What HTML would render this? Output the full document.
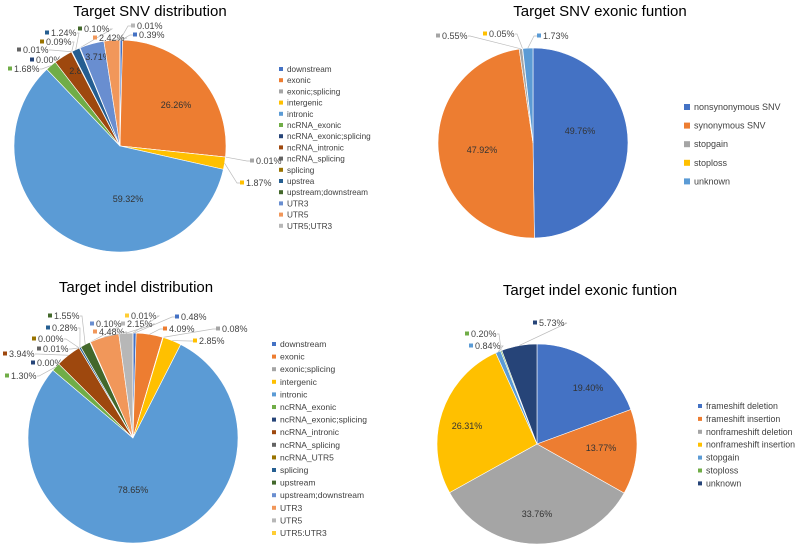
<!DOCTYPE html>
<html><head><meta charset="utf-8"><style>
body{margin:0;background:#fff;}
svg{display:block;font-family:"Liberation Sans",sans-serif;}
</style></head><body>
<svg id="chart" width="800" height="545" viewBox="0 0 800 545"></svg>
<script>
// ---- data ----
const snvCategories = ["downstream","exonic","exonic;splicing","intergenic","intronic","ncRNA_exonic","ncRNA_exonic;splicing","ncRNA_intronic","ncRNA_splicing","splicing","upstrea","upstream;downstream","UTR3","UTR5","UTR5;UTR3"];
const snvValues = [0.39,26.26,0.01,1.87,59.32,1.68,0.00,2.87,0.01,0.09,1.24,0.10,3.71,2.42,0.01];
const snvExCategories = ["nonsynonymous SNV","synonymous SNV","stopgain","stoploss","unknown"];
const snvExValues = [49.76,47.92,0.55,0.05,1.73];
const indelCategories = ["downstream","exonic","exonic;splicing","intergenic","intronic","ncRNA_exonic","ncRNA_exonic;splicing","ncRNA_intronic","ncRNA_splicing","ncRNA_UTR5","splicing","upstream","upstream;downstream","UTR3","UTR5","UTR5:UTR3"];
const indelValues = [0.48,4.09,0.08,2.85,78.65,1.30,0.00,3.94,0.01,0.00,0.28,1.55,0.10,4.48,2.15,0.01];
const indelExCategories = ["frameshift deletion","frameshift insertion","nonframeshift deletion","nonframeshift insertion","stopgain","stoploss","unknown"];
const indelExValues = [19.40,13.77,33.76,26.31,0.84,0.20,5.73];

// ---- styling / layout ----
const pal15 = ["#4472C4","#ED7D31","#A5A5A5","#FFC000","#5B9BD5","#70AD47","#264478","#9E480E","#636363","#997300","#255E91","#43682B","#698ED0","#F1975A","#B7B7B7","#FFCD33"];
const pal7 = ["#4472C4","#ED7D31","#A5A5A5","#FFC000","#5B9BD5","#70AD47","#264478"];
const NS="http://www.w3.org/2000/svg";
const svg=document.getElementById('chart');
function mk(tag,attrs,parent){const e=document.createElementNS(NS,tag);for(const k in attrs)e.setAttribute(k,attrs[k]);(parent||svg).appendChild(e);return e;}

const pies=[
 {key:"snv-dist",title:"Target SNV distribution",tx:150,ty:16,cx:120,cy:146,r:106,cats:snvCategories,vals:snvValues,pal:pal15,
  lx:279,ly0:69,ldy:11.2,fs:8.2,ms:4,
  labels:{0:[133,35],1:[176,105,1],2:[250,161],3:[240,183],4:[128,199,1],5:[8,69],6:[30,60],7:[82,71,1],8:[17,50],9:[40,42],10:[45,33],11:[78,29],12:[98,57,1],13:[93,38],14:[131,26]}},
 {key:"snv-exonic",title:"Target SNV exonic funtion",tx:600,ty:16,cx:533,cy:143,r:95,cats:snvExCategories,vals:snvExValues,pal:pal7,
  lx:684,ly0:107,ldy:18.6,fs:9,ms:6,
  labels:{0:[580,131,1],1:[482,150,1],2:[36,36],3:[83,34],4:[137,36]}, offx:400},
 {key:"indel-dist",title:"Target indel distribution",tx:136,ty:292,cx:133,cy:438,r:105,cats:indelCategories,vals:indelValues,pal:pal15,
  lx:272,ly0:344,ldy:12.6,fs:8.5,ms:4,
  labels:{0:[175,317],1:[163,329],2:[216,329],3:[193,341],4:[133,490,1],5:[5,376],6:[31,363],7:[3,354],8:[37,349],9:[32,339],10:[46,328],11:[48,316],12:[90,324],13:[93,332],14:[121,324],15:[125,316]}},
 {key:"indel-exonic",title:"Target indel exonic funtion",tx:590,ty:295,cx:537,cy:444,r:100,cats:indelExCategories,vals:indelExValues,pal:pal7,
  lx:698,ly0:406,ldy:12.9,fs:8.8,ms:4,
  labels:{0:[588,388,1],1:[601,448,1],2:[537,514,1],3:[467,426,1],4:[469,346],5:[465,334],6:[533,323]}}
];

pies.forEach(p=>{
  const g=mk('g',{});
  
  
  const t=mk('text',{x:p.tx,y:p.ty,'text-anchor':'middle','font-size':15,fill:'#000'},g);
  t.textContent=p.title;
  
  
  const total=p.vals.reduce((a,b)=>a+b,0);
  let a0=-Math.PI/2;
  const offx=p.offx||0;
  p.vals.forEach((v,i)=>{
    const a1=a0+v/total*2*Math.PI;
    const col=p.pal[i%p.pal.length];
    if(v>0){
      const x0=p.cx+p.r*Math.cos(a0),y0=p.cy+p.r*Math.sin(a0);
      const x1=p.cx+p.r*Math.cos(a1),y1=p.cy+p.r*Math.sin(a1);
      const large=(a1-a0)>Math.PI?1:0;
      const s=mk('path',{d:`M${p.cx},${p.cy}L${x0},${y0}A${p.r},${p.r} 0 ${large} 1 ${x1},${y1}Z`,fill:col,stroke:'#fff','stroke-width':0.6},g);
      
      
    }
    const am=(a0+a1)/2;
    const lb=p.labels[i];
    if(lb){
      const txt=v.toFixed(2)+'%';
      if(lb[2]){
        const l=mk('text',{x:lb[0],y:lb[1]+3,'text-anchor':'middle','font-size':9,fill:'#333'},g);
        l.textContent=txt;
        
        
      } else {
        const lx=lb[0]+offx, ly=lb[1];
        const ex=p.cx+p.r*Math.cos(am), ey=p.cy+p.r*Math.sin(am);
        const right=lx>p.cx;
        const ax=right?lx-3:lx+34;
        const ln=mk('polyline',{points:`${ex},${ey} ${ax},${ly} ${right?lx:lx+32},${ly}`,fill:'none',stroke:'#bbb','stroke-width':0.7},g);
        
        
        mk('rect',{x:lx,y:ly-2.5,width:4,height:4,fill:col},g);
        const l=mk('text',{x:lx+6,y:ly+3,'font-size':9,fill:'#444'},g);
        l.textContent=txt;
        
        
      }
    }
    a0=a1;
  });
  p.cats.forEach((c,i)=>{
    const y=p.ly0+i*p.ldy;
    const le=mk('g',{},g);
    
    
    const sz=p.ms;
    mk('rect',{x:p.lx,y:y-sz/2,width:sz,height:sz,fill:p.pal[i%p.pal.length]},le);
    const tt=mk('text',{x:p.lx+sz+4,y:y+3,'font-size':p.fs,fill:'#404040'},le);
    tt.textContent=c;
  });
});
</script>
</body></html>
